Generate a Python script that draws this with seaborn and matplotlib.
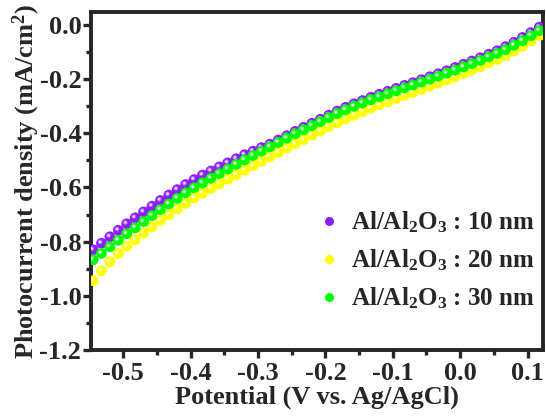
import numpy as np
import pandas as pd
import matplotlib
matplotlib.use("Agg")
import matplotlib.pyplot as plt
import matplotlib.transforms as mtransforms
from matplotlib.lines import Line2D
import seaborn as sns

# ---------------- data ----------------
potential = [-0.545, -0.5325, -0.520, -0.5075, -0.495, -0.4825, -0.470, -0.4575, -0.445, -0.4325,
             -0.420, -0.4075, -0.395, -0.3825, -0.370, -0.3575, -0.345, -0.3325, -0.320, -0.3075,
             -0.295, -0.2825, -0.270, -0.2575, -0.245, -0.2325, -0.220, -0.2075, -0.195, -0.1825,
             -0.170, -0.1575, -0.145, -0.1325, -0.120, -0.1075, -0.095, -0.0825, -0.070, -0.0575,
             -0.045, -0.0325, -0.020, -0.0075, 0.005, 0.0175, 0.030, 0.0425, 0.055, 0.0675,
             0.080, 0.0925, 0.105, 0.1175]

j_10nm = [-0.830, -0.806, -0.782, -0.758, -0.734, -0.712, -0.690, -0.669, -0.648, -0.628,
          -0.608, -0.589, -0.571, -0.554, -0.539, -0.524, -0.509, -0.494, -0.479, -0.466,
          -0.453, -0.440, -0.425, -0.409, -0.393, -0.378, -0.363, -0.348, -0.333, -0.318,
          -0.304, -0.291, -0.279, -0.267, -0.256, -0.245, -0.234, -0.223, -0.213, -0.202,
          -0.191, -0.180, -0.169, -0.157, -0.145, -0.133, -0.121, -0.108, -0.095, -0.080,
          -0.064, -0.046, -0.028, -0.008]

j_20nm = [-0.944, -0.908, -0.874, -0.844, -0.817, -0.793, -0.768, -0.745, -0.722, -0.701,
          -0.679, -0.659, -0.639, -0.621, -0.604, -0.587, -0.570, -0.553, -0.536, -0.520,
          -0.504, -0.487, -0.471, -0.454, -0.438, -0.423, -0.407, -0.392, -0.376, -0.361,
          -0.346, -0.333, -0.320, -0.307, -0.295, -0.284, -0.272, -0.260, -0.249, -0.238,
          -0.226, -0.215, -0.203, -0.192, -0.179, -0.167, -0.154, -0.141, -0.127, -0.113,
          -0.096, -0.078, -0.059, -0.039]

j_30nm = [-0.867, -0.843, -0.819, -0.795, -0.771, -0.749, -0.726, -0.704, -0.682, -0.661,
          -0.640, -0.620, -0.601, -0.583, -0.566, -0.549, -0.532, -0.515, -0.498, -0.482,
          -0.466, -0.450, -0.434, -0.418, -0.402, -0.387, -0.372, -0.357, -0.342, -0.327,
          -0.313, -0.300, -0.288, -0.276, -0.265, -0.254, -0.243, -0.232, -0.222, -0.211,
          -0.200, -0.189, -0.178, -0.167, -0.155, -0.143, -0.131, -0.118, -0.105, -0.091,
          -0.075, -0.058, -0.040, -0.021]

labels = [r"Al/Al$_2$O$_3$ : 10 nm", r"Al/Al$_2$O$_3$ : 20 nm", r"Al/Al$_2$O$_3$ : 30 nm"]
colors = ["#8c1eff", "#ffff00", "#00ff00"]
series = [j_10nm, j_20nm, j_30nm]

xticks = [-0.5, -0.4, -0.3, -0.2, -0.1, 0.0, 0.1]
yticks = [0.0, -0.2, -0.4, -0.6, -0.8, -1.0, -1.2]

# ---------------- style ----------------
sns.set_style("ticks")
plt.rcParams["font.family"] = ["Liberation Serif", "DejaVu Serif"]
plt.rcParams["font.weight"] = "bold"
plt.rcParams["mathtext.fontset"] = "custom"
plt.rcParams["mathtext.rm"] = "Liberation Serif:bold"
plt.rcParams["mathtext.bf"] = "Liberation Serif:bold"
plt.rcParams["mathtext.it"] = "Liberation Serif:bold"
plt.rcParams["mathtext.default"] = "bf"

fig = plt.figure(figsize=(5.46, 4.17), dpi=100)
ax = fig.add_axes([0.1667, 0.1607, 0.8278, 0.8105])


def lighten(c, f):
    rgb = np.array(matplotlib.colors.to_rgb(c))
    return tuple(rgb + (1 - rgb) * f)


off = mtransforms.offset_copy(ax.transData, fig=fig, x=-1.3, y=1.3, units="dots")

for lab, col, vals in zip(labels, colors, series):
    df = pd.DataFrame({"Potential": potential, "J": vals})
    sns.scatterplot(data=df, x="Potential", y="J", color=col, s=60, edgecolor="none",
                    linewidth=0, ax=ax, legend=False, zorder=3)
    ax.scatter(df["Potential"], df["J"], s=10, color=lighten(col, 0.4), edgecolor="none",
               transform=off, zorder=3)
    ax.scatter(df["Potential"], df["J"], s=3, color=lighten(col, 0.85), edgecolor="none",
               transform=off, zorder=3)

ax.set_xlim(-0.548, 0.123)
ax.set_ylim(-1.2, 0.048)
ax.set_xticks(xticks)
ax.set_yticks(yticks)
ax.set_xticklabels([f"{t:.1f}" for t in xticks])
ax.set_yticklabels([f"{t:.1f}" for t in yticks])
ax.set_xticks(np.array(xticks[:-1]) + 0.05, minor=True)
ax.set_yticks(np.array(yticks[:-1]) - 0.1, minor=True)

for sp in ax.spines.values():
    sp.set_linewidth(2.8)
    sp.set_visible(True)

ax.tick_params(axis="both", which="major", direction="out", length=6, width=2.4,
               labelsize=19, pad=1)
ax.tick_params(axis="both", which="minor", direction="out", length=3.5, width=2.4)
ax.tick_params(axis="x", which="both", top=True, labeltop=False, pad=3)
for t in ax.xaxis.get_major_ticks() + ax.xaxis.get_minor_ticks():
    t.tick2line.set_markersize(1.5)

ax.set_xlabel("Potential (V vs. Ag/AgCl)", fontsize=19, fontweight="bold", labelpad=0)
ax.set_ylabel("Photocurrent density (mA/cm$^2$)", fontsize=19, fontweight="bold", labelpad=-2)

handles = [Line2D([0], [0], marker="o", linestyle="none", markersize=6.5,
                  markerfacecolor=c, markeredgecolor="none") for c in colors]
ax.legend(handles=handles, labels=labels, loc="lower right", bbox_to_anchor=(1.02, 0.063),
          frameon=False, fontsize=18, handlelength=0.8, handletextpad=0.45,
          labelspacing=0.5, borderpad=0.2)

fig.savefig("out.png", dpi=100)
